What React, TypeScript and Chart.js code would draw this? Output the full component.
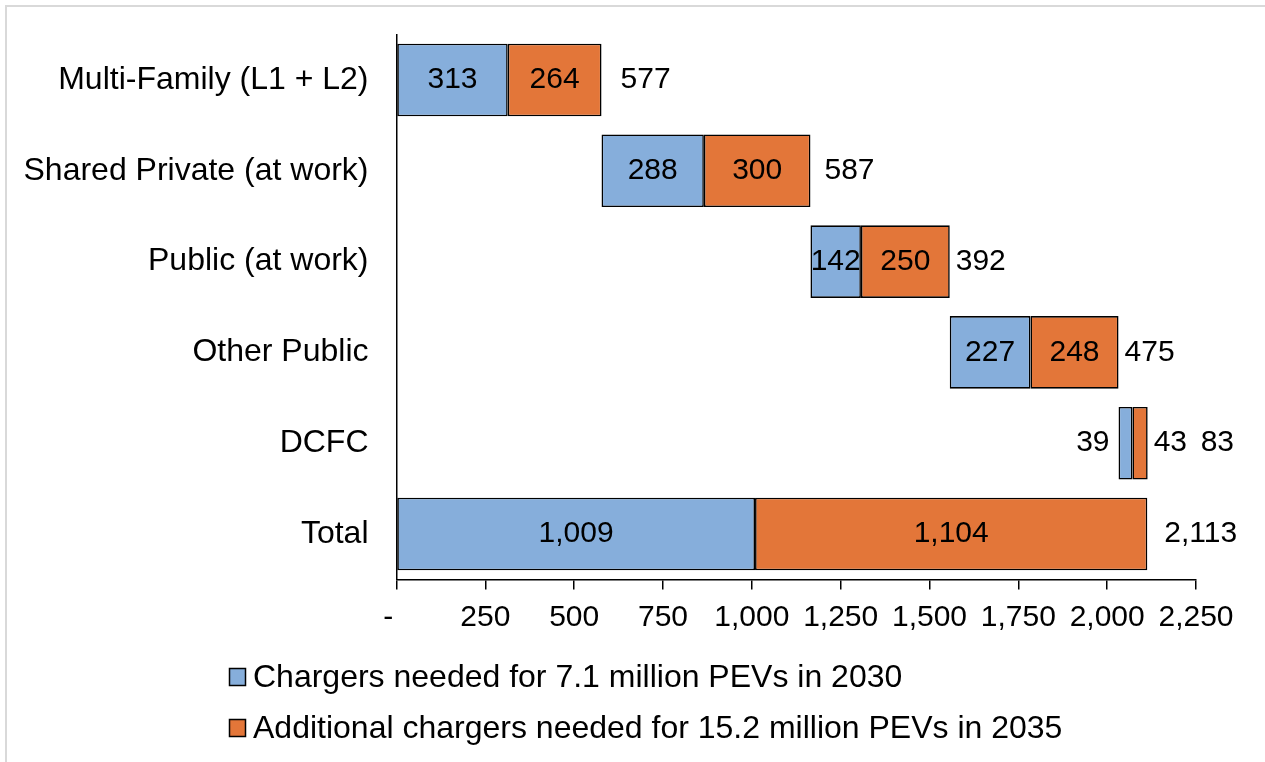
import React, { useEffect, useRef } from "react";
import { Chart, registerables } from "chart.js";

Chart.register(...registerables);

// ---- Data ----
const categories = [
  "Multi-Family (L1 + L2)",
  "Shared Private (at work)",
  "Public (at work)",
  "Other Public",
  "DCFC",
  "Total",
];
const chargers2030 = [313, 288, 142, 227, 39, 1009];
const additional2035 = [264, 300, 250, 248, 43, 1104];
const totalLabels = [577, 587, 392, 475, 83, 2113];
const seriesNames = [
  "Chargers needed for 7.1 million PEVs in 2030",
  "Additional chargers needed for 15.2 million PEVs in 2035",
];
const xTickValues = [0, 250, 500, 750, 1000, 1250, 1500, 1750, 2000, 2250];

// ---- Styles ----
const BLUE = "#86AEDB";
const ORANGE = "#E37639";
const FONT = '"Liberation Sans", Arial, sans-serif';
const TICK_SIZE = 30;
const CAT_SIZE = 32;
const LEGEND_SIZE = 32;
const totalLabelGap = [19, 14, 6, 6, 53, 17];

// waterfall offsets (total row starts at 0)
const lastIdx = categories.length - 1;
const starts: number[] = [];
{
  let run = 0;
  for (let i = 0; i < categories.length; i++) {
    if (i === lastIdx) {
      starts.push(0);
    } else {
      starts.push(run);
      run += chargers2030[i] + additional2035[i];
    }
  }
}
const blueData = chargers2030.map((v, i) => [starts[i], starts[i] + v]);
const orangeData = additional2035.map((v, i) => [
  starts[i] + chargers2030[i],
  starts[i] + chargers2030[i] + v,
]);

const fmt = (v: number) => v.toLocaleString("en-US");

const decorPlugin = {
  id: "decor",
  beforeDraw(chart: any) {
    const ctx = chart.ctx;
    ctx.save();
    ctx.fillStyle = "#ffffff";
    ctx.fillRect(0, 0, chart.width, chart.height);
    ctx.strokeStyle = "#d9d9d9";
    ctx.lineWidth = 2;
    ctx.strokeRect(6, 6, chart.width + 20, chart.height + 20);
    ctx.restore();
  },
  afterDatasetsDraw(chart: any) {
    const ctx = chart.ctx;
    ctx.save();
    ctx.font = `${TICK_SIZE}px ${FONT}`;
    ctx.fillStyle = "#000";
    ctx.textBaseline = "middle";
    const m0 = chart.getDatasetMeta(0);
    const m1 = chart.getDatasetMeta(1);
    for (let i = 0; i < categories.length; i++) {
      const b = m0.data[i].getProps(["x", "base", "y"], true);
      const o = m1.data[i].getProps(["x", "base", "y"], true);
      // blue label
      const bt = fmt(chargers2030[i]);
      const bw = ctx.measureText(bt).width;
      const bLeft = Math.min(b.x, b.base);
      const bRight = Math.max(b.x, b.base);
      if (bRight - bLeft >= bw) {
        ctx.textAlign = "center";
        ctx.fillText(bt, (bLeft + bRight) / 2, b.y);
      } else {
        ctx.textAlign = "right";
        ctx.fillText(bt, bLeft - 9, b.y);
      }
      // orange label
      const ot = fmt(additional2035[i]);
      const ow = ctx.measureText(ot).width;
      const oLeft = Math.min(o.x, o.base);
      const oRight = Math.max(o.x, o.base);
      if (oRight - oLeft >= ow) {
        ctx.textAlign = "center";
        ctx.fillText(ot, (oLeft + oRight) / 2, o.y);
      } else {
        ctx.textAlign = "left";
        ctx.fillText(ot, oRight + 6, o.y);
      }
      // total label
      ctx.textAlign = "left";
      ctx.fillText(fmt(totalLabels[i]), oRight + totalLabelGap[i], o.y);
    }
    ctx.restore();
  },
  afterDraw(chart: any) {
    const ctx = chart.ctx;
    ctx.save();
    const colors = [BLUE, ORANGE];
    const ys = [677, 728];
    ctx.font = `${LEGEND_SIZE}px ${FONT}`;
    ctx.textBaseline = "middle";
    ctx.textAlign = "left";
    for (let k = 0; k < 2; k++) {
      ctx.fillStyle = colors[k];
      ctx.fillRect(229.5, ys[k] - 8.5, 16, 17);
      ctx.strokeStyle = "#000";
      ctx.lineWidth = 1.5;
      ctx.strokeRect(229.5, ys[k] - 8.5, 16, 17);
      ctx.fillStyle = "#000";
      ctx.fillText(seriesNames[k], 253, ys[k] + 1);
    }
    ctx.restore();
  },
};

export default function App() {
  const ref = useRef<HTMLCanvasElement | null>(null);
  useEffect(() => {
    if (!ref.current) return;
    const chart = new Chart(ref.current, {
      type: "bar",
      data: {
        labels: categories,
        datasets: [
          {
            label: seriesNames[0],
            data: blueData as any,
            backgroundColor: BLUE,
            borderColor: "#000",
            borderWidth: 1.6,
            borderSkipped: false,
            barPercentage: 0.8,
            categoryPercentage: 1,
            grouped: false,
          },
          {
            label: seriesNames[1],
            data: orangeData as any,
            backgroundColor: ORANGE,
            borderColor: "#000",
            borderWidth: 1.6,
            borderSkipped: false,
            barPercentage: 0.8,
            categoryPercentage: 1,
            grouped: false,
          },
        ],
      },
      options: {
        indexAxis: "y",
        responsive: false,
        animation: false,
        devicePixelRatio: 1,
        layout: { padding: { left: 0, top: 34.6, right: 69, bottom: 122.6 } },
        plugins: {
          legend: { display: false },
          tooltip: { enabled: false },
        },
        scales: {
          x: {
            type: "linear",
            min: 0,
            max: 2250,
            afterBuildTicks: (scale: any) => {
              scale.ticks = xTickValues.map((v) => ({ value: v }));
            },
            afterFit: (scale: any) => {
              scale.height = 60;
              scale.paddingLeft = 0;
              scale.paddingRight = 0;
            },
            ticks: {
              color: "#000",
              font: { family: FONT, size: TICK_SIZE },
              padding: 10,
              maxRotation: 0,
              autoSkip: false,
              callback: (v: any) => (Number(v) === 0 ? "-  " : fmt(Number(v))),
            },
            grid: {
              drawOnChartArea: false,
              drawTicks: true,
              tickLength: 10,
              color: "#000",
              lineWidth: 1.5,
            },
            border: { display: true, color: "#000", width: 1.5 },
          },
          y: {
            type: "category",
            offset: true,
            afterFit: (scale: any) => {
              scale.width = 396.5;
              scale.paddingTop = 0;
              scale.paddingBottom = 0;
            },
            ticks: {
              color: "#000",
              font: { family: FONT, size: CAT_SIZE },
              padding: 28,
              autoSkip: false,
            },
            grid: { display: false, drawTicks: false },
            border: { display: true, color: "#000", width: 1.5 },
          },
        },
      },
      plugins: [decorPlugin],
    });
    return () => chart.destroy();
  }, []);
  return (
    <div
      style={{
        position: "absolute",
        left: 0,
        top: 0,
        width: 1265,
        height: 762,
        background: "#fff",
      }}
    >
      <canvas ref={ref} width={1265} height={762} style={{ display: "block" }} />
    </div>
  );
}
